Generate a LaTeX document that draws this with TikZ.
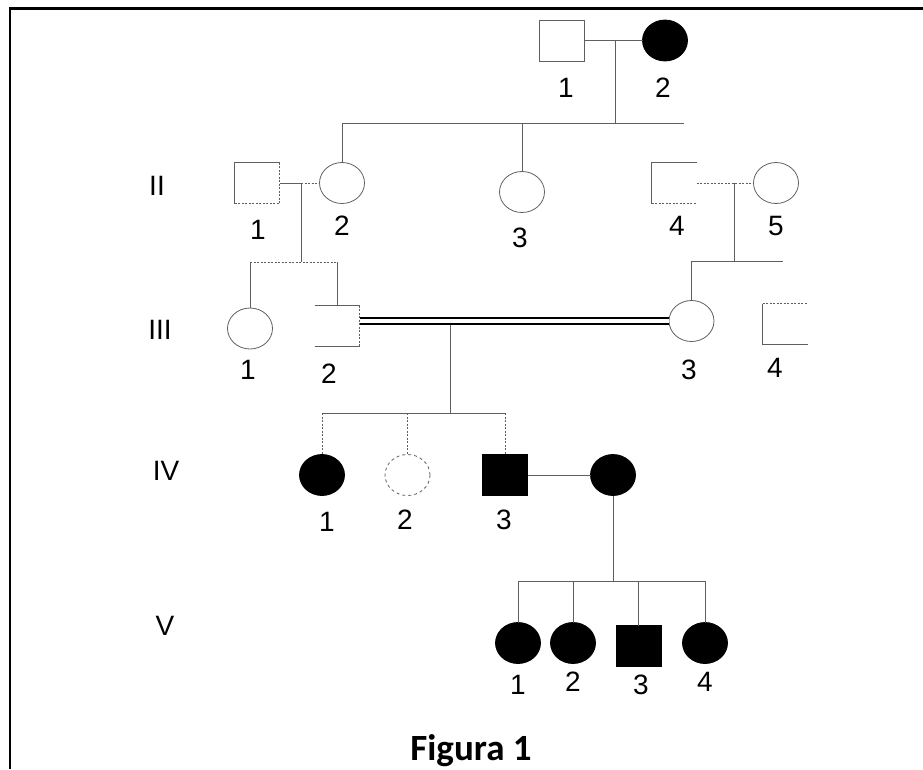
\documentclass[tikz,border=0pt]{standalone}
\usepackage{fontspec}
\setmainfont{Liberation Sans}
\newfontfamily\capfont{Carlito}
\usetikzlibrary{positioning, shapes.geometric}
\definecolor{linegray}{RGB}{95,95,95}

\begin{document}
\begin{tikzpicture}[x=1pt, y=-1pt,
    every node/.style={font=\fontsize{28}{30}\selectfont},
    person/.style={minimum width=45pt, minimum height=41pt, inner sep=0pt, outer sep=0pt},
    male/.style={person, rectangle, draw=linegray, line width=0.8pt},
    female/.style={person, ellipse, draw=linegray, line width=0.8pt},
    halfmale/.style={person, rectangle},
    affected/.style={fill=black, draw=black},
    link/.style={draw=linegray, line width=0.8pt},
    dots/.style={dash pattern=on 2pt off 1.5pt},
    consang/.style={draw=black, double=white, line width=1.8pt, double distance=4.2pt}]
            \useasboundingbox (0,0) rectangle (923,769);
            \draw[line width=2.6pt] (10,769) -- (10,8.7) -- (923,8.7);

            \node (gII) at (157,185.5) {II};
            \node (gIII) at (160,330) {III};
            \node (gIV) at (166,471) {IV};
            \node (gV) at (165,626) {V};

            \node[male] (I1) at (562,40.5) {};
            \node[female, affected] (I2) at (665,40.5) {};
            \node (nI1) at (566,88) {1};
            \node (nI2) at (663,88) {2};

            \node[halfmale] (II1) at (257,183) {};
            \node[female] (II2) at (342,183) {};
            \node[female] (II3) at (522,192) {};
            \node[halfmale] (II4) at (674,183) {};
            \node[female] (II5) at (776,183) {};
            \node (nII1) at (258,230) {1};
            \node (nII2) at (342,226) {2};
            \node (nII3) at (520,238) {3};
            \node (nII4) at (677,226) {4};
            \node (nII5) at (776,226) {5};

            \node[female] (III1) at (250,328.5) {};
            \node[halfmale] (III2) at (337,326) {};
            \node[female] (III3) at (691.5,321) {};
            \node[halfmale] (III4) at (785,324) {};
            \node (nIII1) at (248,370) {1};
            \node (nIII2) at (329,374) {2};
            \node (nIII3) at (689,370) {3};
            \node (nIII4) at (775,368) {4};

            \node[female, affected] (IV1) at (322,475) {};
            \node[female, dashed] (IV2) at (407.5,475) {};
            \node[male, affected] (IV3) at (505,475) {};
            \node[female, affected] (IV4) at (613,475) {};
            \node (nIV1) at (327,522) {1};
            \node (nIV2) at (405,520) {2};
            \node (nIV3) at (504,520) {3};

            \node[female, affected] (V1) at (518,643) {};
            \node[female, affected] (V2) at (573,643) {};
            \node[male, affected] (V3) at (638.5,646) {};
            \node[female, affected] (V4) at (705,643) {};
            \node (nV1) at (518,685) {1};
            \node (nV2) at (573,682) {2};
            \node (nV3) at (641,685) {3};
            \node (nV4) at (705,682) {4};

            \node[font=\capfont\bfseries\fontsize{37}{40}\selectfont, anchor=base] (fig) at (471,760) {Figura 1};

            \draw[link] (II1.south west) -- (II1.north west) -- (II1.north east);
            \draw[link, dots] (II1.north east) -- (II1.south east) -- (II1.south west);
            \draw[link] (II4.south west) -- (II4.north west) -- (II4.north east);
            \draw[link, dots] (II4.south west) -- (II4.south east);
            \draw[link] (III2.north west) -- (III2.north east);
            \draw[link] (III2.south west) -- (III2.south east);
            \draw[link, dots] (III2.north east) -- (III2.south east);
            \draw[link, dots] (III4.north west) -- (III4.north east);
            \draw[link] (III4.north west) -- (III4.south west) -- (III4.south east);

            \coordinate (m1) at (615,40.5);
            \coordinate (s1) at (615,123);
            \coordinate (s1l) at (342,123);
            \coordinate (s1r) at (684,123);
            \coordinate (m2) at (301,183);
            \coordinate (s2) at (301,262);
            \coordinate (m3) at (734,183);
            \coordinate (s3) at (734,261);
            \coordinate (s3r) at (783,261);
            \coordinate (m4) at (450,325);
            \coordinate (s4) at (450,413);
            \coordinate (s5) at (613,581);

            \path[link]
              (I1) edge (I2)
              (m1) edge (s1)
              (s1l) edge (s1r)
              (s1l) edge (II2)
              (II3 |- s1l) edge (II3)
              (II1) edge (m2)
              (m2) edge [dots] (II2)
              (m2) edge (s2)
              (III1 |- s2) edge [dots] (III2 |- s2)
              (III1 |- s2) edge (III1)
              (III2 |- s2) edge (III2.north)
              (II4.east) edge [dots] (II5)
              (m3) edge (s3)
              (III3 |- s3) edge (s3r)
              (III3 |- s3) edge (III3)
              (m4) edge (s4)
              (IV1 |- s4) edge (IV3 |- s4)
              (IV1 |- s4) edge [dots] (IV1)
              (IV2 |- s4) edge [dots] (IV2)
              (IV3 |- s4) edge [dots] (IV3)
              (IV3) edge (IV4)
              (IV4) edge (s5)
              (V1 |- s5) edge (V4 |- s5)
              (V1 |- s5) edge (V1)
              (V2 |- s5) edge (V2)
              (V3 |- s5) edge (V3)
              (V4 |- s5) edge (V4)
            ;
            \draw[consang] (III2.east |- III3.west) -- (III3.west);
\end{tikzpicture}
\end{document}
